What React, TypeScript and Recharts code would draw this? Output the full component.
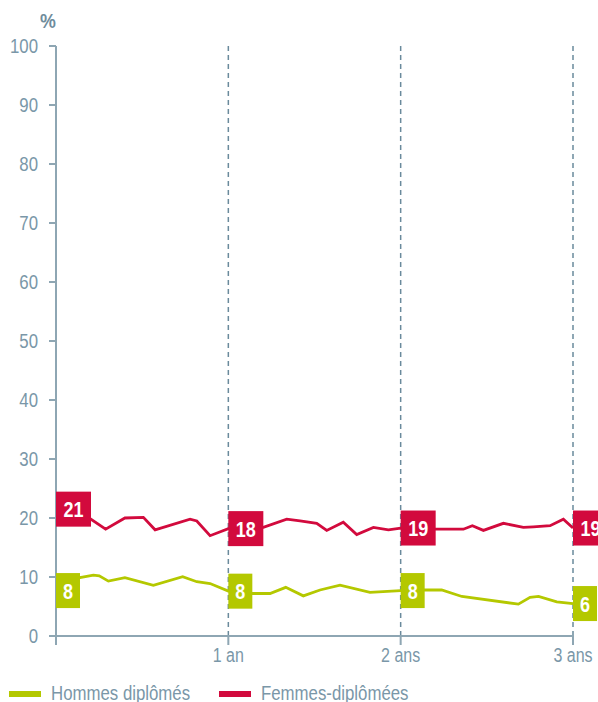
import {
  ComposedChart,
  Line,
  Scatter,
  XAxis,
  YAxis,
  ReferenceLine,
} from "recharts";

const femmesYears = [
  0, 0.197, 0.288, 0.4, 0.507, 0.575, 0.778, 0.817, 0.894, 1.0, 1.203, 1.339,
  1.416, 1.513, 1.571, 1.667, 1.745, 1.842, 1.929, 2.0, 2.205, 2.364, 2.416,
  2.48, 2.596, 2.712, 2.77, 2.867, 2.944, 3.0,
];
const femmesValues = [
  21.5, 19.9, 18.1, 20.0, 20.1, 18.0, 19.8, 19.5, 17.0, 18.2, 18.4, 19.8, 19.5,
  19.1, 17.9, 19.3, 17.2, 18.4, 18.0, 18.3, 18.1, 18.1, 18.7, 17.9, 19.1, 18.4,
  18.5, 18.7, 19.8, 18.3,
];

const hommesYears = [
  0, 0.139, 0.217, 0.251, 0.304, 0.4, 0.565, 0.735, 0.817, 0.894, 1.0, 1.136,
  1.242, 1.333, 1.435, 1.532, 1.648, 1.822, 2.0, 2.142, 2.238, 2.355, 2.683,
  2.751, 2.8, 2.906, 3.0,
];
const hommesValues = [
  7.7, 9.9, 10.3, 10.2, 9.3, 9.9, 8.6, 10.05, 9.2, 8.9, 7.6, 7.2, 7.2, 8.25,
  6.8, 7.8, 8.6, 7.4, 7.7, 7.8, 7.8, 6.7, 5.4, 6.55, 6.7, 5.8, 5.5,
];

const labelYears = [0, 1, 2, 3];
const femmesLabels = ["21", "18", "19", "19"];
const hommesLabels = ["8", "8", "8", "6"];

const yTicks = [0, 10, 20, 30, 40, 50, 60, 70, 80, 90, 100];
const xTicks = [0, 1, 2, 3];
const xTickLabels = ["", "1 an", "2 ans", "3 ans"];

const RED = "#d20a3d";
const GREEN = "#b4c800";
const TEXT = "#7a97a8";
const AXIS = "#8ea6b3";
const DASH = "#6a8a9c";
const FONT = '"Liberation Sans", Arial, sans-serif';
// the original uses a condensed face; squeeze Liberation Sans horizontally
const SQUEEZE = 0.8;

const toPoints = (xs: number[], ys: number[]) =>
  xs.map((x, i) => ({ x, y: ys[i] }));

const femmesData = toPoints(femmesYears, femmesValues);
const hommesData = toPoints(hommesYears, hommesValues);

const labelPoints = (xs: number[], ys: number[], texts: string[]) =>
  labelYears.map((yr, i) => ({
    x: yr,
    y: ys[xs.indexOf(yr)],
    text: texts[i],
  }));

const femmesLabelData = labelPoints(femmesYears, femmesValues, femmesLabels);
const hommesLabelData = labelPoints(hommesYears, hommesValues, hommesLabels);

const makeBox = (fill: string) => (props: any) => {
  const { cx, cy, payload } = props;
  const w = payload.text.length > 1 ? 35 : 24;
  const h = 35;
  return (
    <g>
      <rect x={cx} y={cy - h / 2} width={w} height={h} fill={fill} />
      <text
        transform={`translate(${cx + w / 2},${cy + 8}) scale(0.82,1)`}
        textAnchor="middle"
        fill="#fff"
        fontFamily={FONT}
        fontWeight="bold"
        fontSize={22}
      >
        {payload.text}
      </text>
    </g>
  );
};

const YTick = (props: any) => {
  const { x, y, payload } = props;
  return (
    <text
      transform={`translate(${x},${y + 7}) scale(${SQUEEZE},1)`}
      textAnchor="end"
      fill={TEXT}
      fontFamily={FONT}
      fontSize={21}
    >
      {payload.value}
    </text>
  );
};

const XTick = (props: any) => {
  const { x, y, payload } = props;
  return (
    <text
      transform={`translate(${x},${y + 15}) scale(${SQUEEZE},1)`}
      textAnchor="middle"
      fill={TEXT}
      fontFamily={FONT}
      fontSize={20}
    >
      {xTickLabels[xTicks.indexOf(payload.value)]}
    </text>
  );
};

const legendText = {
  position: "absolute" as const,
  top: 682,
  fontSize: 21,
  lineHeight: 1,
  color: TEXT,
  whiteSpace: "nowrap" as const,
  transform: `scaleX(${SQUEEZE})`,
  transformOrigin: "left top",
};

export default function App() {
  return (
    <div
      style={{
        position: "absolute",
        left: 0,
        top: 0,
        width: 598,
        height: 702,
        overflow: "hidden",
        background: "#fff",
        fontFamily: FONT,
      }}
    >
      <div
        style={{
          position: "absolute",
          left: 40,
          top: 10,
          fontSize: 21,
          lineHeight: 1,
          fontWeight: "bold",
          color: "#6f8c9c",
          transform: "scaleX(0.85)",
          transformOrigin: "left top",
        }}
      >
        %
      </div>
      <ComposedChart
        width={598}
        height={702}
        margin={{ top: 46, right: 25, left: 0, bottom: 36 }}
      >
        <XAxis
          type="number"
          dataKey="x"
          domain={[0, 3]}
          ticks={xTicks}
          allowDuplicatedCategory={false}
          height={30}
          stroke={AXIS}
          strokeWidth={2}
          tickSize={9}
          tickMargin={2}
          tick={<XTick />}
        />
        <YAxis
          type="number"
          dataKey="y"
          domain={[0, 100]}
          ticks={yTicks}
          width={56}
          stroke={AXIS}
          strokeWidth={2}
          tickSize={7}
          tickMargin={11}
          interval={0}
          tick={<YTick />}
        />
        {[1, 2, 3].map((v) => (
          <ReferenceLine
            key={v}
            x={v}
            stroke={DASH}
            strokeWidth={1.5}
            strokeDasharray="5 4"
          />
        ))}
        <Line
          data={hommesData}
          dataKey="y"
          type="linear"
          stroke={GREEN}
          strokeWidth={2.8}
          dot={false}
          isAnimationActive={false}
        />
        <Line
          data={femmesData}
          dataKey="y"
          type="linear"
          stroke={RED}
          strokeWidth={2.8}
          dot={false}
          isAnimationActive={false}
        />
        <Scatter
          data={hommesLabelData}
          dataKey="y"
          shape={makeBox(GREEN)}
          isAnimationActive={false}
        />
        <Scatter
          data={femmesLabelData}
          dataKey="y"
          shape={makeBox(RED)}
          isAnimationActive={false}
        />
      </ComposedChart>
      <div style={{ position: "absolute", left: 9, top: 691, width: 32, height: 6, background: GREEN }} />
      <div style={{ ...legendText, left: 51 }}>Hommes diplômés</div>
      <div style={{ position: "absolute", left: 219, top: 691, width: 32, height: 6, background: RED }} />
      <div style={{ ...legendText, left: 261 }}>Femmes-diplômées</div>
    </div>
  );
}
